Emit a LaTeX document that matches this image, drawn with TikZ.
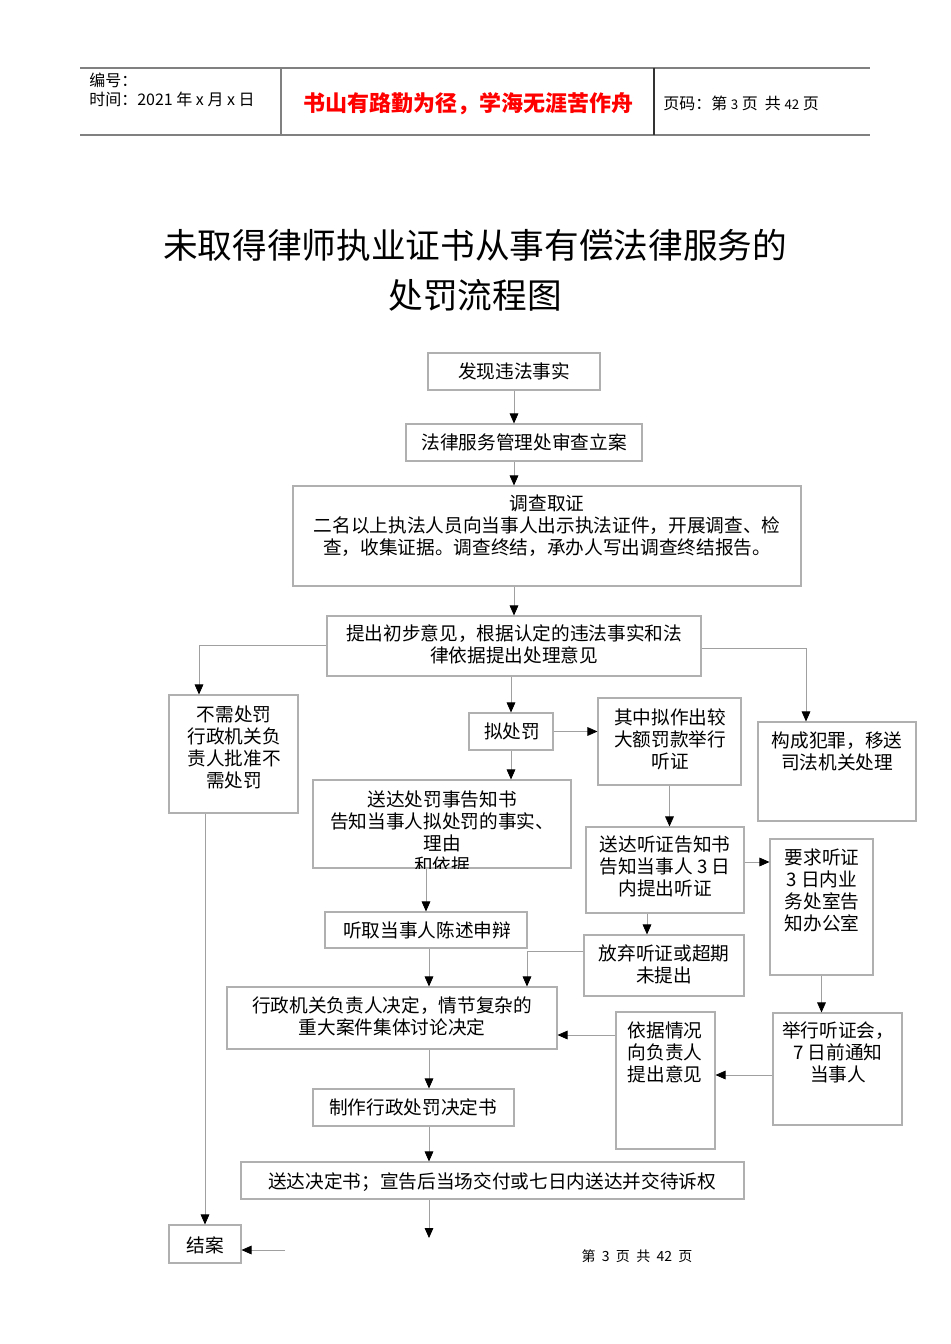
\documentclass[tikz,border=0pt]{standalone}
\usepackage{fontspec}
\setmainfont{Noto Sans CJK SC}
\usetikzlibrary{arrows.meta,fit}
\definecolor{boxgray}{HTML}{B0B0B0}
\definecolor{linegray}{HTML}{A0A0A0}
\definecolor{hdrgray}{HTML}{808080}
\tikzset{
  box/.style={draw=boxgray, line width=0.8pt, inner sep=0pt, rectangle},
  txt/.style={font=\fontsize{14}{16.5}\selectfont, align=center, inner sep=0pt},
  conn/.style={draw=linegray, line width=0.6pt},
  arr/.style={conn, -{Triangle[length=7.5pt,width=6.5pt,color=black,fill=black]}},
}
\newcommand\bx[5]{\node[box, fit={(#2,#3)(#4,#5)}] (#1) {};}
\begin{document}
\begin{tikzpicture}[x=0.75pt,y=-0.75pt]
\useasboundingbox (0,0) rectangle (950,1344);
\fill[white] (0,0) rectangle (950,1344);

% header
\draw[hdrgray, line width=0.9pt] (80,68) -- (870,68);
\draw[hdrgray, line width=1.6pt] (80,135) -- (870,135);
\draw[hdrgray, line width=0.9pt] (281,68) -- (281,135);
\draw[black!80, line width=0.9pt] (654,68) -- (654,135);
\node[anchor=west, inner sep=0pt, font=\fontsize{12}{14}\selectfont] (h1) at (89,80) {编号：};
\node[anchor=west, inner sep=0pt, font=\fontsize{12}{14}\selectfont] (h2) at (89,99) {时间：2021 年 x 月 x 日};
\node[inner sep=0pt, text=red, font=\fontsize{16.5}{19}\selectfont\bfseries] (h3) at (468,104) {书山有路勤为径，学海无涯苦作舟};
\node[anchor=west, inner sep=0pt, font=\fontsize{12}{14}\selectfont] (h4) at (663,103) {页码：第 {\fontsize{10}{12}\selectfont 3} 页\ \ 共 {\fontsize{10}{12}\selectfont 42} 页};

% title
\node[inner sep=0pt, font=\fontsize{26}{30}\selectfont] (title1) at (475,245) {未取得律师执业证书从事有偿法律服务的};
\node[inner sep=0pt, font=\fontsize{26}{30}\selectfont] (title2) at (475,295) {处罚流程图};

% boxes
\bx{fx}{428}{353}{600}{390}
\bx{la}{406}{424}{642}{461}
\bx{dc}{293}{486}{801}{586}
\bx{ty}{327}{616}{701}{676}
\bx{bx}{169}{695}{298}{813}
\bx{nc}{469}{713}{553}{750}
\bx{tz}{598}{698}{741}{785}
\bx{fz}{758}{722}{916}{821}
\bx{sd}{313}{780}{571}{868}
\bx{tzs}{586}{827}{744}{913}
\bx{yq}{770}{839}{873}{975}
\bx{tq}{325}{912}{527}{948}
\bx{fq}{584}{935}{744}{996}
\bx{xz}{227}{987}{557}{1049}
\bx{yj}{616}{1012}{715}{1149}
\bx{jx}{773}{1013}{902}{1125}
\bx{zz}{313}{1089}{514}{1126}
\bx{sj}{241}{1162}{744}{1199}
\bx{ja}{169}{1225}{241}{1263}

% texts
\node[txt] (t-fx) at (514,371) {发现违法事实};
\node[txt] (t-la) at (524,442) {法律服务管理处审查立案};
\node[txt] (t-dc) at (547,526) {调查取证\\二名以上执法人员向当事人出示执法证件，开展调查、检\\查，收集证据。调查终结，承办人写出调查终结报告。};
\node[txt] (t-ty) at (514,644) {提出初步意见，根据认定的违法事实和法\\律依据提出处理意见};
\node[txt] (t-bx) at (234,747) {不需处罚\\行政机关负\\责人批准不\\需处罚};
\node[txt] (t-nc) at (512,731) {拟处罚};
\node[txt] (t-tz) at (670,739) {其中拟作出较\\大额罚款举行\\听证};
\node[txt] (t-fz) at (837,751) {构成犯罪，移送\\司法机关处理};
\begin{scope}
\clip (313,780) rectangle (571,868);
\node[txt] (t-sd) at (442,832) {送达处罚事告知书\\告知当事人拟处罚的事实、\\理由\\和依据};
\end{scope}
\node[txt] (t-tzs) at (665,866) {送达听证告知书\\告知当事人 3 日\\内提出听证};
\node[txt] (t-yq) at (822,890) {要求听证\\3 日内业\\务处室告\\知办公室};
\node[txt] (t-tq) at (427,930) {听取当事人陈述申辩};
\node[txt] (t-fq) at (664,964) {放弃听证或超期\\未提出};
\node[txt] (t-xz) at (392,1016) {行政机关负责人决定，情节复杂的\\重大案件集体讨论决定};
\node[txt] (t-yj) at (665,1052) {依据情况\\向负责人\\提出意见};
\node[txt] (t-jx) at (838,1052) {举行听证会，\\7 日前通知\\当事人};
\node[txt] (t-zz) at (413,1107) {制作行政处罚决定书};
\node[txt] (t-sj) at (492,1182) {送达决定书；宣告后当场交付或七日内送达并交待诉权};
\node[txt] (t-ja) at (205,1245) {结案};
\node[inner sep=0pt, font=\fontsize{10.5}{12}\selectfont] (foot) at (637,1256) {第\ \ 3\ \ 页\ \ 共\ \ 42\ \ 页};

% helper coordinates
\coordinate (c514) at (514,0);
\coordinate (cL) at (199,645);
\coordinate (cR) at (806,648);
\coordinate (c647) at (647,0);
\coordinate (c527) at (527,951);
\coordinate (c429) at (429,0);
\coordinate (cy1075) at (0,1075);
\coordinate (cy1035) at (0,1035);
\coordinate (end1) at (429,1238);
\coordinate (start2) at (285,1250);

% connectors
\draw[arr] (fx.south) -- (fx.south |- la.north);
\draw[arr] (c514 |- la.south) -- (c514 |- dc.north);
\draw[arr] (c514 |- dc.south) -- (c514 |- ty.north);
\draw[arr] (ty.west |- cL) -| (cL |- bx.north);
\draw[arr] (ty.east |- cR) -| (cR |- fz.north);
\draw[arr] (nc.north |- ty.south) -- (nc.north);
\draw[arr] (nc.east) -- (tz.west |- nc.east);
\draw[arr] (nc.south) -- (nc.south |- sd.north);
\draw[arr] (tz.south) -- (tz.south |- tzs.north);
\draw[arr] (tzs.east |- 0,862) -- (yq.west |- 0,862);
\draw[arr] (c647 |- tzs.south) -- (c647 |- fq.north);
\draw[arr] (tq.north |- sd.south) -- (tq.north);
\draw[arr] (c429 |- tq.south) -- (c429 |- xz.north);
\draw[arr] (fq.west |- c527) -- (c527) -- (c527 |- xz.north);
\draw[arr] (yq.south) -- (yq.south |- jx.north);
\draw[arr] (jx.west |- cy1075) -- (yj.east |- cy1075);
\draw[arr] (yj.west |- cy1035) -- (xz.east |- cy1035);
\draw[arr] (c429 |- xz.south) -- (c429 |- zz.north);
\draw[arr] (c429 |- zz.south) -- (c429 |- sj.north);
\draw[arr] (c429 |- sj.south) -- (end1);
\draw[arr] (ja.north |- bx.south) -- (ja.north);
\draw[arr] (start2) -- (ja.east |- start2);
\end{tikzpicture}
\end{document}
